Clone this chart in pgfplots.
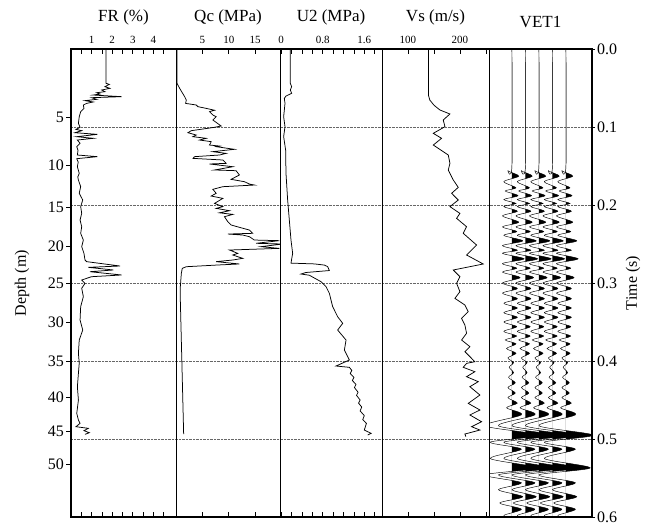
\documentclass[border=0pt]{standalone}
\usepackage{fontspec}
\setmainfont{Liberation Serif}
\usepackage{pgfplots}
\pgfplotsset{compat=1.18}
\usepackage{pgfplotstable}

\pgfplotstableread{
a t
1.70 0
1.70 0.044
1.86 0.0453
1.65 0.0483
1.89 0.0504
1.49 0.0526
1.65 0.0547
1.25 0.056
1.41 0.0577
1.08 0.059
2.46 0.0611
1.00 0.0624
1.25 0.0645
0.68 0.0662
1.08 0.0679
0.76 0.0697
0.60 0.0718
0.63 0.0761
0.47 0.0803
0.40 0.0868
0.36 0.0953
0.44 0.1004
0.24 0.103
0.52 0.1047
0.19 0.1073
1.28 0.1094
0.28 0.1124
1.08 0.1145
0.31 0.1167
0.44 0.1209
0.28 0.1252
0.34 0.1300
0.31 0.1359
1.28 0.138
0.28 0.1406
0.35 0.1450
0.31 0.1509
0.40 0.1594
0.33 0.1640
0.36 0.1679
0.47 0.1765
0.40 0.185
0.57 0.1936
0.47 0.2021
0.52 0.2107
0.44 0.2192
0.52 0.2278
0.47 0.2363
0.60 0.2449
0.52 0.2534
0.63 0.262
0.68 0.2705
0.76 0.2726
2.38 0.2782
0.84 0.2799
2.06 0.2833
0.92 0.2855
2.46 0.2897
1.00 0.2919
0.76 0.294
0.52 0.2962
0.68 0.3004
0.52 0.3068
0.60 0.3175
0.47 0.3303
0.44 0.3474
0.57 0.3603
0.40 0.3731
0.36 0.3902
0.40 0.4030
0.36 0.4158
0.31 0.4329
0.36 0.4500
0.28 0.4671
0.36 0.4756
0.44 0.4799
0.24 0.4842
0.84 0.4863
0.63 0.4893
0.89 0.4919
0.68 0.4940
}\FRdata

\pgfplotstableread{
a t
0.19 0
0.19 0.044
0.69 0.0504
1.64 0.0611
1.95 0.0654
1.82 0.0697
3.84 0.0718
4.15 0.0739
5.72 0.0761
7.30 0.0785
6.35 0.0803
6.98 0.0846
7.61 0.0868
6.98 0.091
8.55 0.0987
7.30 0.1004
2.89 0.1047
2.26 0.1073
3.84 0.1103
3.21 0.1124
5.72 0.1145
4.47 0.1167
6.67 0.1188
6.35 0.1231
8.24 0.1244
7.61 0.1252
11.07 0.1286
6.98 0.1316
9.50 0.1338
8.24 0.1359
3.52 0.138
3.21 0.1402
8.87 0.1423
9.50 0.1466
6.35 0.1474
10.75 0.1509
7.30 0.1551
11.38 0.156
12.01 0.1615
10.44 0.1671
12.96 0.1701
13.90 0.1731
14.84 0.1744
8.87 0.1765
6.98 0.1799
7.61 0.185
6.67 0.1885
8.87 0.1915
7.30 0.1979
8.87 0.2021
7.61 0.2043
10.13 0.2073
8.24 0.2100
10.75 0.2120
9.18 0.2150
9.81 0.2214
10.44 0.2256
12.01 0.2286
13.90 0.2321
14.53 0.2363
9.81 0.2372
12.64 0.2385
13.90 0.2406
14.84 0.2449
19.56 0.2457
15.16 0.2491
20.19 0.25
16.10 0.2534
19.56 0.2556
10.13 0.2577
11.70 0.2620
10.75 0.2641
12.64 0.2684
10.75 0.2705
7.61 0.2726
12.01 0.2756
7.92 0.2769
1.95 0.2791
1.19 0.2812
1.01 0.2876
0.82 0.3047
0.82 0.3218
1.45 0.4936
}\Qcdata

\pgfplotstableread{
a t
0.178 0
0.178 0.044
0.204 0.0483
0.178 0.0526
0.204 0.0568
0.095 0.0603
0.063 0.0632
0.076 0.0697
0.050 0.0868
0.076 0.0996
0.050 0.1124
0.088 0.1295
0.095 0.1594
0.127 0.1936
0.159 0.2192
0.191 0.2449
0.223 0.2620
0.191 0.2745
0.640 0.2755
0.832 0.2770
0.896 0.2790
0.928 0.2840
0.479 0.2865
0.383 0.2885
0.544 0.2900
0.768 0.2983
0.864 0.3047
0.928 0.3132
0.992 0.3303
1.088 0.3432
1.185 0.3517
1.088 0.3603
1.249 0.3731
1.217 0.3859
1.313 0.3987
1.056 0.4064
1.313 0.4081
1.36 0.412
1.33 0.416
1.40 0.421
1.37 0.425
1.44 0.430
1.41 0.434
1.48 0.440
1.45 0.444
1.52 0.450
1.49 0.454
1.55 0.459
1.52 0.464
1.60 0.470
1.57 0.475
1.64 0.480
1.60 0.4885
1.73 0.4927
1.665 0.4949
}\Udata

\pgfplotstableread{
a t
139.7 0
139.7 0.060
142 0.0654
150 0.072
161.5 0.0782
180.8 0.0833
167.9 0.0910
171.2 0.0996
148.7 0.1081
164.7 0.1145
148.7 0.1231
177.6 0.1359
180.8 0.1466
177.6 0.1551
187.2 0.1679
196.8 0.1774
184.0 0.1850
196.8 0.1936
180.8 0.2021
200 0.2107
193.6 0.2171
212.8 0.2278
206.4 0.2363
232.1 0.2513
212.8 0.2641
244.9 0.2756
187.2 0.2833
200 0.2919
193.6 0.3004
200 0.3111
190.4 0.3197
209.6 0.3282
216 0.3368
203.2 0.3453
209.6 0.3538
212.8 0.3645
203.2 0.3731
219.2 0.3816
209.6 0.3880
219.2 0.3944
228.8 0.4009
212.8 0.4030
206.4 0.4081
228.8 0.4137
212.8 0.4201
235.3 0.4265
219.2 0.4329
238.5 0.4436
216 0.4543
238.5 0.4628
219.2 0.4692
241.7 0.4778
222.4 0.4842
238.5 0.4885
209.6 0.4936
211.5 0.4970
}\Vsdata

\pgfplotstableread{
a t
0 0
0 0.150
-0.3 0.156
0.5 0.163
-0.6 0.170
0.3 0.178
-0.5 0.182
0.45 0.188
-0.6 0.193
0.3 0.198
-0.6 0.202
0.4 0.208
-0.7 0.214
0.5 0.222
-0.7 0.228
0.35 0.234
-0.6 0.239
0.8 0.246
-0.7 0.252
0.4 0.258
-0.7 0.262
0.9 0.269
-0.7 0.275
0.35 0.281
-0.7 0.286
0.6 0.293
-0.7 0.300
0.4 0.307
-0.7 0.313
0.4 0.320
-0.6 0.326
0.4 0.332
-0.6 0.338
0.4 0.344
-0.6 0.350
0.35 0.356
-0.6 0.362
0.35 0.368
-0.5 0.373
0.3 0.378
-0.4 0.384
0.3 0.390
-0.3 0.396
0.12 0.402
-0.2 0.408
0.12 0.415
-0.25 0.421
0.25 0.428
-0.3 0.434
0.25 0.441
-0.3 0.447
0.4 0.454
-0.4 0.460
0.7 0.469
-2.0 0.483
2.0 0.495
-1.6 0.504
0.7 0.513
-1.6 0.525
1.8 0.537
-2.0 0.546
0.7 0.556
-1.0 0.565
0.8 0.574
-0.9 0.582
0.7 0.590
-0.6 0.598
0 0.604
}\trace

\pgfplotsset{
  panel/.style={
    anchor=north west, scale only axis, height=468pt,
    ymin=0, ymax=0.6, y dir=reverse, ytick=\empty,
    xtick pos=both, xticklabel pos=upper, tick align=inside,
    major tick length=5pt, minor tick length=5pt,
    axis line style={line width=0.9pt},
    every tick/.style={black, line width=0.6pt},
    xticklabel style={font=\fontsize{11}{13}\selectfont, inner sep=0pt},
    xticklabel shift=5pt,
    title style={at={(axis description cs:0.5,1)}, anchor=base, yshift=22pt,
      inner sep=0pt, font=\fontsize{17}{20}\selectfont},
    /pgf/number format/assume math mode=true,
  },
  curve/.style={black, line width=0.75pt, mark=none},
}

\begin{document}
\begin{tikzpicture}
\path[use as bounding box] (0,0) rectangle (652pt,-523pt);

% frame with depth scale
\begin{axis}[at={(71pt,-49pt)}, anchor=north west, scale only axis,
  width=521pt, height=468pt, xmin=0, xmax=1, ymin=0, ymax=0.6, y dir=reverse,
  xtick=\empty,
  ytick={0.0872,0.1487,0.2026,0.2526,0.300,0.350,0.400,0.4462,0.4897,0.532},
  yticklabels={5,10,15,20,25,30,35,40,45,50},
  ytick pos=left, tick align=outside, major tick length=5pt,
  every tick/.style={black, line width=0.8pt},
  yticklabel style={font=\fontsize{16}{19}\selectfont, inner sep=0pt},
  yticklabel shift=2pt,
  axis line style={line width=2.5pt},
  ylabel={Depth (m)},
  ylabel style={font=\fontsize{16}{19}\selectfont, at={(axis description cs:-0.094,0.5)}, anchor=center},
  /pgf/number format/assume math mode=true]
\end{axis}

% time scale with dotted grid
\begin{axis}[at={(71pt,-49pt)}, anchor=north west, scale only axis,
  width=521pt, height=468pt, xmin=0, xmax=1, ymin=0, ymax=0.6, y dir=reverse,
  xtick=\empty,
  ytick={0,0.1,0.2,0.3,0.4,0.5,0.6},
  yticklabels={0.0,0.1,0.2,0.3,0.4,0.5,0.6},
  ytick pos=right, tick align=outside, major tick length=3pt,
  every tick/.style={black, line width=0.8pt},
  yticklabel style={font=\fontsize{16}{19}\selectfont, inner sep=0pt},
  yticklabel shift=2pt,
  ymajorgrids, grid style={densely dotted, black!60, line width=0.7pt},
  axis line style={line width=2.5pt},
  ylabel={Time (s)},
  ylabel style={font=\fontsize{16}{19}\selectfont, at={(axis description cs:1.0787,0.5)}, anchor=center},
  /pgf/number format/assume math mode=true]
\end{axis}

% FR
\begin{axis}[panel, at={(71pt,-49pt)}, width=105pt, xmin=0, xmax=5.1,
  xtick={1,2,3,4}, minor xtick={0.5,1.5,2.5,3.5,4.5}, title={FR (\%)}]
\addplot[curve] table[x=a, y=t]{\FRdata};
\end{axis}

% Qc
\begin{axis}[panel, at={(176pt,-49pt)}, width=104pt, xmin=0, xmax=19.7,
  xtick={5,10,15}, title={Qc (MPa)}]
\addplot[curve] table[x=a, y=t]{\Qcdata};
\end{axis}

% U2
\begin{axis}[panel, at={(280pt,-49pt)}, width=102pt, xmin=-0.02, xmax=1.94,
  xtick={0,0.8,1.6}, minor xtick={0.2,0.4,0.6,1.0,1.2,1.4,1.8}, title={U2 (MPa)}]
\addplot[curve] table[x=a, y=t]{\Udata};
\end{axis}

% Vs
\begin{axis}[panel, at={(382pt,-49pt)}, width=107pt, xmin=50, xmax=256,
  xtick={100,200}, minor xtick={150,250}, title={Vs (m/s)}]
\addplot[curve] table[x=a, y=t]{\Vsdata};
\end{axis}

% VET1 seismic traces
\begin{axis}[panel, at={(489pt,-49pt)}, width=103pt, xmin=-0.70, xmax=6.93,
  xtick=\empty, title={VET1}, title style={yshift=-6pt}]
\pgfplotsinvokeforeach{1,2,3,4,5}{
  \begin{scope}
    \clip (axis cs:#1,0) rectangle (axis cs:12,0.6);
    \addplot[draw=none, fill=black, smooth] table[x expr=\thisrow{a}+#1, y=t]{\trace};
  \end{scope}
}
\pgfplotsinvokeforeach{1,2,3,4,5}{
  \addplot[black, line width=0.45pt, smooth] table[x expr=\thisrow{a}+#1, y=t]{\trace};
}
\end{axis}
\end{tikzpicture}
\end{document}
